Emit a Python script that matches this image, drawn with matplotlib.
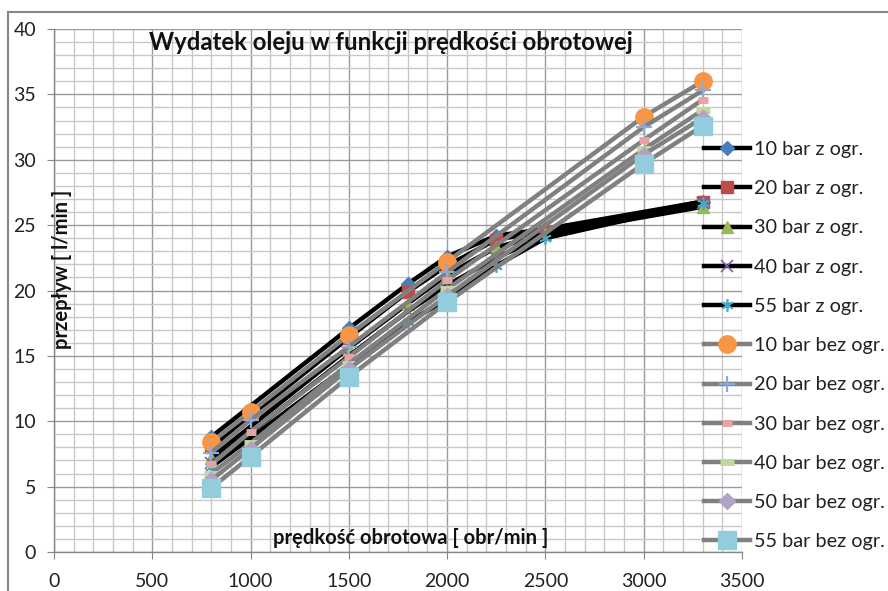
import matplotlib
matplotlib.use("Agg")
import matplotlib.pyplot as plt
from matplotlib.lines import Line2D
from matplotlib.ticker import MultipleLocator

plt.rcParams['font.family'] = ['Lato', 'DejaVu Sans']

# ---- data ----
x_z = [800, 1500, 1800, 2000, 2250, 2500, 3300]
z10 = [8.8, 17.1, 20.5, 22.6, 24.2, 24.7, 26.8]
z20 = [8.0, 16.4, 19.9, 21.9, 23.9, 24.5, 26.8]
z30 = [7.2, 15.6, 19.0, 21.2, 23.3, 24.3, 26.4]
z40 = [6.8, 15.0, 18.4, 20.4, 22.5, 24.2, 26.7]
z55 = [6.5, 14.3, 17.6, 19.3, 21.9, 24.0, 26.7]

x_b = [800, 1000, 1500, 2000, 3000, 3300]
b10 = [8.4, 10.7, 16.6, 22.2, 33.3, 36.0]
b20 = [7.6, 10.1, 15.7, 21.4, 32.5, 35.3]
b30 = [6.7, 9.2, 14.9, 20.8, 31.5, 34.6]
b40 = [6.0, 8.3, 14.4, 20.1, 30.8, 33.8]
b50 = [5.5, 7.9, 14.0, 19.6, 30.4, 33.2]
b55 = [4.9, 7.3, 13.4, 19.1, 29.7, 32.6]

labels = ["10 bar z ogr.", "20 bar z ogr.", "30 bar z ogr.", "40 bar z ogr.", "55 bar z ogr.",
          "10 bar bez ogr.", "20 bar bez ogr.", "30 bar bez ogr.", "40 bar bez ogr.",
          "50 bar bez ogr.", "55 bar bez ogr."]

title = "Wydatek oleju w funkcji prędkości obrotowej"
xlabel = "prędkość obrotowa [ obr/min ]"
ylabel = "przepływ [ l/min ]"

W, H = 888, 591
fig = plt.figure(figsize=(W / 100, H / 100), dpi=100)
ax = fig.add_axes([54 / W, (H - 552) / H, (742 - 54) / W, (552 - 29) / H])

# outer chart border (left/top visible)
fig.add_artist(Line2D([8 / W, 8 / W], [0, (H - 12) / H], color='#868686', lw=1.5,
                      transform=fig.transFigure))
fig.add_artist(Line2D([8 / W, 1], [(H - 12) / H, (H - 12) / H], color='#868686', lw=1.5,
                      transform=fig.transFigure))

ax.set_xlim(0, 3500)
ax.set_ylim(0, 40)
ax.xaxis.set_major_locator(MultipleLocator(500))
ax.xaxis.set_minor_locator(MultipleLocator(100))
ax.yaxis.set_major_locator(MultipleLocator(5))
ax.yaxis.set_minor_locator(MultipleLocator(1))
ax.grid(which='minor', color='#c8c8c8', lw=1.0)
ax.grid(which='major', color='#9a9a9a', lw=1.0)
ax.set_axisbelow(True)
for s in ['top', 'right']:
    ax.spines[s].set_visible(False)
for s in ['left', 'bottom']:
    ax.spines[s].set_color('#868686')
    ax.spines[s].set_linewidth(1.0)
ax.tick_params(which='major', length=5, color='#868686', labelsize=14, labelcolor='#222222')
ax.tick_params(axis='y', pad=8)
ax.tick_params(axis='x', pad=10)
ax.tick_params(which='minor', length=0)

black = '#000000'
gray = '#808080'
lw = 3.2
specs_z = [
    (z10, dict(marker='D', ms=7, mfc='#4A7EBB', mec='#4A7EBB')),
    (z20, dict(marker='s', ms=8, mfc='#BE4B48', mec='#BE4B48')),
    (z30, dict(marker='^', ms=8.5, mfc='#98B954', mec='#98B954')),
    (z40, dict(marker='x', ms=8, mec='#7D60A0', mew=1.2)),
    (z55, dict(marker=(6, 2, 0), ms=9, mec='#46AAC5', mew=1.2)),
]
specs_b = [
    (b10, dict(marker='o', ms=12.5, mfc='#F79646', mec='#F79646')),
    (b20, dict(marker='+', ms=11, mec='#8EA9DB', mew=1.6)),
    (b30, dict(marker='_', ms=7, mec='#E6A3A1', mew=5)),
    (b40, dict(marker='_', ms=10, mec='#C3D69B', mew=5)),
    (b50, dict(marker='D', ms=8, mfc='#B3A2C7', mec='#B3A2C7')),
    (b55, dict(marker='s', ms=12.5, mfc='#93CDDD', mec='#93CDDD')),
]
handles = []
for (ys, kw), lab in zip(specs_z, labels[:5]):
    h, = ax.plot(x_z, ys, color=black, lw=lw, label=lab, clip_on=False, **kw)
    handles.append(h)
for (ys, kw), lab in zip(specs_b, labels[5:]):
    h, = ax.plot(x_b, ys, color=gray, lw=lw, label=lab, clip_on=False, **kw)
    handles.append(h)

ax.text(0.49, 0.974, title, transform=ax.transAxes, ha='center', va='center',
        fontsize=17.2, fontweight='bold', color='#111111')
ax.text(0.518, 0.027, xlabel, transform=ax.transAxes, ha='center', va='center',
        fontsize=14.5, fontweight='bold', color='#111111')
ax.text(0.012, 0.54, ylabel, transform=ax.transAxes, ha='center', va='center',
        rotation=90, fontsize=14.5, fontweight='bold', color='#111111')

leg = fig.legend(handles=handles, labels=labels, loc='upper left',
                 bbox_to_anchor=(704 / W, 1 - 141 / H), frameon=False,
                 fontsize=14.3, handlelength=2.3, handletextpad=0.2,
                 labelspacing=1.12, borderaxespad=0, borderpad=0)
for t in leg.get_texts():
    t.set_color('#222222')

fig.savefig('out.png', dpi=100)
